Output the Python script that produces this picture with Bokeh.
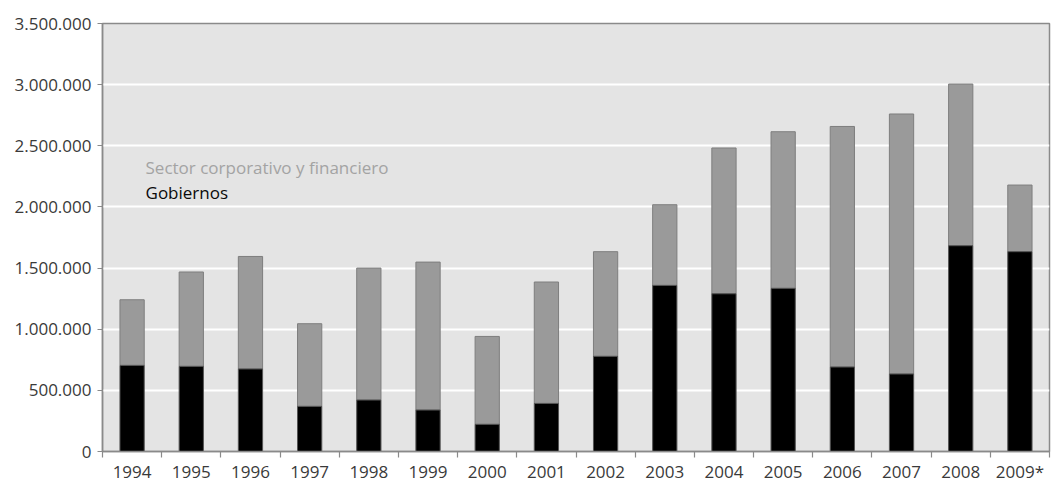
from bokeh.plotting import figure
from bokeh.models import ColumnDataSource, FixedTicker, Range1d, Label
from bokeh.embed import file_html
from bokeh.resources import INLINE

years = ["1994", "1995", "1996", "1997", "1998", "1999", "2000", "2001",
         "2002", "2003", "2004", "2005", "2006", "2007", "2008", "2009*"]
gobiernos = [704000, 696000, 675000, 369000, 421000, 339000, 222000, 393000,
             778000, 1358000, 1290000, 1334000, 691000, 634000, 1683000, 1634000]
corporativo = [537000, 772000, 920000, 676000, 1079000, 1210000, 719000, 993000,
               856000, 660000, 1192000, 1281000, 1967000, 2126000, 1322000, 545000]
y_ticks = [0, 500000, 1000000, 1500000, 2000000, 2500000, 3000000, 3500000]
y_labels = ["0", "500.000", "1.000.000", "1.500.000", "2.000.000",
            "2.500.000", "3.000.000", "3.500.000"]
series_names = ["Sector corporativo y financiero", "Gobiernos"]

FONT = "Open Sans"

xc = [i + 0.5 for i in range(len(years))]
totals = [g + c for g, c in zip(gobiernos, corporativo)]
src = ColumnDataSource(dict(x=xc, gob=gobiernos, tot=totals,
                            zero=[0] * len(years)))

p = figure(width=1053, height=485, output_backend="svg", toolbar_location=None,
           x_range=Range1d(0, len(years)), y_range=Range1d(0, 3500000),
           min_border_left=102, min_border_right=4, min_border_top=23,
           min_border_bottom=0)

p.background_fill_color = "#e4e4e4"
p.border_fill_color = "white"
p.outline_line_color = "#8a8a8a"
p.outline_line_width = 1.5

p.vbar(x="x", width=0.41, bottom="gob", top="tot", source=src,
       fill_color="#9a9a9a", line_color="#7e7e7e", line_width=1)
p.vbar(x="x", width=0.41, bottom="zero", top="gob", source=src,
       fill_color="#000000", line_color="#555555", line_width=1)

# Y axis
p.yaxis.ticker = FixedTicker(ticks=y_ticks)
p.yaxis.major_label_overrides = {t: l for t, l in zip(y_ticks, y_labels)}
p.yaxis.major_label_text_font = FONT
p.yaxis.major_label_text_font_size = "17px"
p.yaxis.major_label_text_color = "#3a3a3a"
p.yaxis.axis_line_color = "#8a8a8a"
p.yaxis.axis_line_width = 1.5
p.yaxis.major_tick_line_color = "#8a8a8a"
p.yaxis.major_tick_out = 5
p.yaxis.major_tick_in = 0
p.yaxis.minor_tick_line_color = None
p.yaxis.major_label_standoff = 6

# X axis: labels at centers, ticks at category boundaries
p.xaxis.ticker = FixedTicker(ticks=xc, minor_ticks=list(range(len(years) + 1)))
p.xaxis.major_label_overrides = {x: y for x, y in zip(xc, years)}
p.xaxis.major_label_text_font = FONT
p.xaxis.major_label_text_font_size = "17px"
p.xaxis.major_label_text_color = "#3a3a3a"
p.xaxis.axis_line_color = "#8a8a8a"
p.xaxis.axis_line_width = 1.5
p.xaxis.major_tick_out = 0
p.xaxis.major_tick_in = 0
p.xaxis.minor_tick_line_color = "#8a8a8a"
p.xaxis.minor_tick_line_width = 1.2
p.xaxis.minor_tick_out = 6
p.xaxis.minor_tick_in = 0
p.xaxis.major_label_standoff = 2

p.xgrid.grid_line_color = None
p.ygrid.ticker = FixedTicker(ticks=y_ticks)
p.ygrid.grid_line_color = "white"
p.ygrid.grid_line_width = 2

p.add_layout(Label(x=0.727, y=2320000, text=series_names[0], text_font=FONT,
                   text_font_size="17px", text_color="#a3a3a3",
                   text_baseline="alphabetic"))
p.add_layout(Label(x=0.727, y=2116000, text=series_names[1], text_font=FONT,
                   text_font_size="17px", text_color="#0a0a0a",
                   text_font_style="normal", text_baseline="alphabetic"))

open("out.html", "w").write(file_html(p, INLINE))
